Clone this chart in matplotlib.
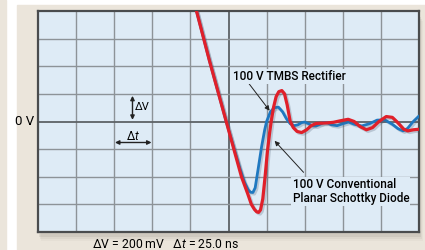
import matplotlib
matplotlib.use("Agg")
import matplotlib.pyplot as plt
import matplotlib.patheffects as pe
from matplotlib.patches import Rectangle

plt.rcParams['font.family'] = ['Roboto', 'DejaVu Sans']
plt.rcParams['mathtext.fontset'] = 'custom'
plt.rcParams['mathtext.rm'] = 'Roboto'
plt.rcParams['mathtext.it'] = 'Roboto:italic'

# scope traces, in grid divisions (x: 25 ns/div, y: 200 mV/div)
red_t = [4.08, 4.16, 4.5, 4.94, 5.14, 5.34, 5.5, 5.6, 5.68, 5.74, 5.79, 5.84, 5.9,
         5.96, 6.02, 6.08, 6.12, 6.18, 6.25, 6.32, 6.4, 6.47, 6.54, 6.62, 6.7, 6.8,
         6.92, 7.05, 7.17, 7.3, 7.45, 7.6, 7.75, 7.95, 8.14, 8.3, 8.45, 8.62, 8.78,
         8.95, 9.14, 9.3, 9.45, 9.6, 9.71, 9.85, 10.0]
red_v = [4.3, 4.0, 2.2, 0.0, -1.0, -2.0, -2.6, -3.0, -3.18, -3.27, -3.29, -3.2, -2.8,
         -2.0, -1.1, -0.4, 0.0, 0.5, 0.9, 1.08, 1.12, 1.0, 0.6, 0.0, -0.22, -0.36,
         -0.40, -0.3, -0.15, -0.07, -0.06, -0.05, -0.03, 0.03, 0.08, 0.0, -0.18, -0.3, -0.22,
         0.0, 0.18, 0.15, -0.05, -0.28, -0.34, -0.3, -0.28]

blue_t = [4.08, 4.16, 4.5, 4.94, 5.15, 5.3, 5.42, 5.52, 5.58, 5.64, 5.7, 5.78, 5.87,
          5.95, 6.0, 6.1, 6.2, 6.31, 6.42, 6.52, 6.62, 6.72, 6.82, 6.92, 7.0, 7.1,
          7.2, 7.3, 7.4, 7.5, 7.6, 7.7, 7.85, 8.0, 8.15, 8.3, 8.5, 8.7, 8.9, 9.1,
          9.3, 9.45, 9.58, 9.7, 9.85, 10.0]
blue_v = [4.3, 4.0, 2.2, 0.0, -1.0, -1.7, -2.2, -2.48, -2.56, -2.57, -2.4, -1.7, -0.9,
          -0.3, 0.0, 0.35, 0.5, 0.52, 0.35, 0.1, -0.08, -0.15, -0.12, -0.04, -0.02, -0.08,
          -0.15, -0.16, -0.1, -0.04, -0.05, -0.12, -0.15, -0.08, -0.02, -0.1, -0.16, -0.08, 0.05, 0.06,
          -0.1, -0.26, -0.34, -0.25, 0.0, 0.2]

n_xdiv, n_ydiv = 10, 8
label_tmbs = "100 V TMBS Rectifier"
label_conv = "100 V Conventional\nPlanar Schottky Diode"
scale_text = "\u0394V = 200 mV   \u0394$t$ = 25.0 ns"

beige = '#ebe5db'
plot_bg = '#deebf6'
grid_c = '#8d9398'

fig = plt.figure(figsize=(4.25, 2.5), dpi=100)
fig.patch.set_facecolor('white')
W, H = 425.0, 250.0
fig.add_artist(Rectangle((0, 0), 6 / W, 1, transform=fig.transFigure, color=beige, zorder=-10))
fig.add_artist(Rectangle((17 / W, 0), 1, 245 / H, transform=fig.transFigure, color=beige, zorder=-10))
# soft shadow under the screen
for k, a in enumerate([0.10, 0.07, 0.04]):
    fig.add_artist(Rectangle(((39 + k) / W, (13 - 2 * k) / H), 382 / W, 220 / H,
                             transform=fig.transFigure, color='#6b6259', alpha=a, lw=0, zorder=-9))

ax = fig.add_axes([38 / W, 18 / H, 381 / W, 221 / H])
ax.set_facecolor(plot_bg)
ax.set_xlim(0, n_xdiv)
ax.set_ylim(-n_ydiv / 2, n_ydiv / 2)
ax.set_xticks([])
ax.set_yticks([])
for i in range(1, n_xdiv):
    c, w = ('#5d6266', 1.3) if i == n_xdiv // 2 else (grid_c, 1.0)
    ax.axvline(i, color=c, lw=w, zorder=1)
for j in range(1, n_ydiv):
    y = j - n_ydiv / 2
    c, w = ('#5d6266', 1.3) if y == 0 else (grid_c, 1.0)
    ax.axhline(y, color=c, lw=w, zorder=1)
for s in ax.spines.values():
    s.set_color('#4a4c4e')
    s.set_linewidth(1.6)

shadow = [pe.SimpleLineShadow(offset=(1.2, -1.2), shadow_color='#4a5a70', alpha=0.25), pe.Normal()]
ax.plot(blue_t, blue_v, color='#1f78c0', lw=2.0, zorder=3, solid_capstyle='round', path_effects=shadow)
ax.plot(red_t, red_v, color='#e0202a', lw=2.3, zorder=4, solid_capstyle='round', path_effects=shadow)

box = dict(boxstyle='square,pad=0.1', fc=plot_bg, ec='none')
arrow = dict(arrowstyle='-|>', color='#222222', lw=0.7, mutation_scale=7, shrinkA=0, shrinkB=0)
ax.annotate('', xy=(6.08, 0.39), xytext=(5.51, 1.42), arrowprops=arrow, zorder=5)
ax.text(5.12, 1.64, label_tmbs, fontsize=8.5, fontweight='medium', va='center', ha='left',
        bbox=box, zorder=6)
ax.annotate('', xy=(6.21, -0.70), xytext=(6.97, -1.84), arrowprops=arrow, zorder=5)
ax.text(6.68, -2.54, label_conv, fontsize=8.5, fontweight='medium', va='center', ha='left',
        linespacing=1.1, bbox=box, zorder=6)

ax.text(-0.1, 0, '0 V', fontsize=9.5, ha='right', va='center', clip_on=False)

dbl = dict(arrowstyle='<|-|>', color='#222222', lw=1.0, mutation_scale=6, shrinkA=0, shrinkB=0)
ax.annotate('', xy=(2.48, 0.93), xytext=(2.48, 0.06), arrowprops=dbl, zorder=5)
ax.text(2.54, 0.52, '\u0394V', fontsize=8, ha='left', va='center', zorder=5)
ax.annotate('', xy=(2.02, -0.76), xytext=(2.98, -0.76), arrowprops=dbl, zorder=5)
ax.text(2.5, -0.55, '\u0394$t$', fontsize=8.5, ha='center', va='center', zorder=5)

fig.text(92 / W, 1 - 245 / H, scale_text, fontsize=8.8, ha='left', va='center')

fig.savefig('out.png', dpi=100, facecolor=fig.get_facecolor())
